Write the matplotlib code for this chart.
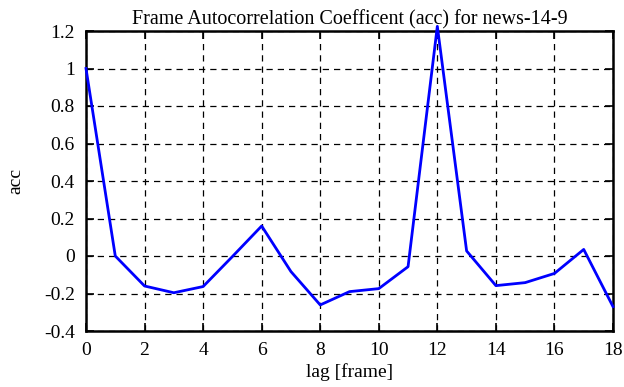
import numpy as np
import matplotlib.pyplot as plt

plt.rcParams['font.family'] = ['Liberation Serif', 'DejaVu Serif']

lag = np.arange(19)
acc = [1.0, 0.0, -0.16, -0.196, -0.163, -0.003, 0.16, -0.083, -0.261, -0.19,
       -0.174, -0.057, 1.225, 0.027, -0.158, -0.142, -0.093, 0.035, -0.27]

fig = plt.figure(figsize=(6.24, 3.87), dpi=100)
ax = fig.add_axes([86/624, 1-331/387, (613-86)/624, (331-31)/387])

ax.plot(lag, acc, color='#0000ff', lw=2, clip_on=False, zorder=3)

ax.set_xlim(0, 18)
ax.set_ylim(-0.4, 1.2)
ax.set_xticks(np.arange(0, 19, 2))
ax.set_yticks(np.arange(-0.4, 1.21, 0.2))
ax.set_yticklabels(['-0.4', '-0.2', '0', '0.2', '0.4', '0.6', '0.8', '1', '1.2'])
ax.grid(True, color='black', ls=(0, (5, 4)), lw=0.9)
ax.tick_params(direction='in', top=True, right=True, length=6, width=1.2,
               labelsize=14, pad=8)
for s in ax.spines.values():
    s.set_linewidth(1.8)

ax.set_title('Frame Autocorrelation Coefficent (acc) for news-14-9', fontsize=14.5, pad=5)
ax.set_xlabel('lag [frame]', fontsize=14, labelpad=3)
ax.set_ylabel('acc', fontsize=14, labelpad=14)

fig.savefig('out.png', dpi=100)
